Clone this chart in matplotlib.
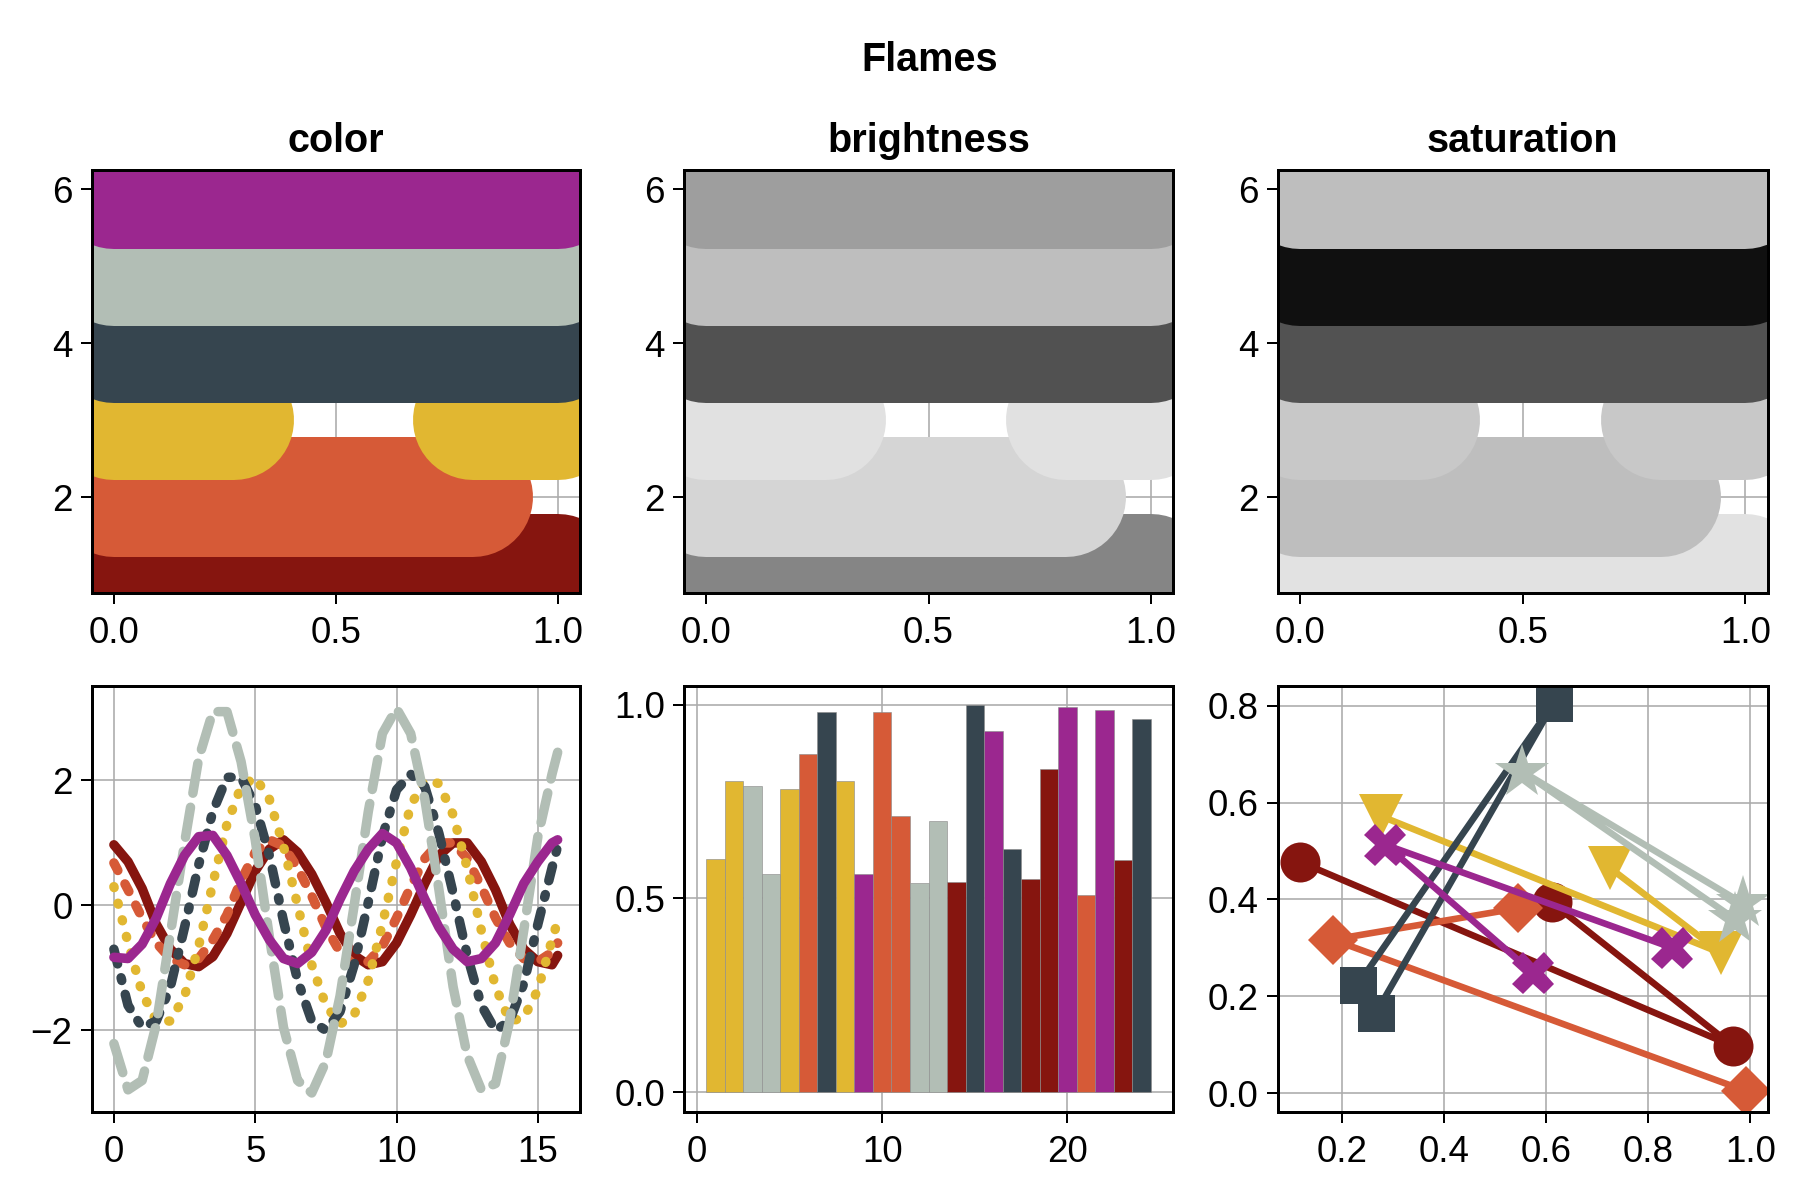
import numpy as np
import matplotlib
matplotlib.use("Agg")
import matplotlib.pyplot as plt

plt.rcParams['font.family'] = ['Liberation Sans', 'DejaVu Sans']

# ---------------- data ----------------
palette = ["#86150F", "#D65A37", "#E1B731", "#36454F", "#B2BEB5", "#9B278F"]
brightness_grays = ["#858585", "#D5D5D5", "#E1E1E1", "#515151", "#BEBEBE", "#9E9E9E"]
saturation_grays = ["#E2E2E2", "#BEBEBE", "#C8C8C8", "#525252", "#101010", "#BEBEBE"]

band_levels = [1, 2, 3, 4, 5, 6]
band_segments = [
    [[0.0, 1.0]],
    [[0.0, 0.81]],
    [[0.0, 0.27], [0.81, 1.0]],
    [[0.0, 1.0]],
    [[0.0, 1.0]],
    [[0.0, 1.0]],
]
panel_titles = ["color", "brightness", "saturation"]

wave_x = [0.0, 0.5, 1.0, 1.5, 2.0, 2.5, 3.0, 3.5, 4.0, 4.5, 5.0, 5.5, 6.0, 6.5,
          7.0, 7.5, 8.0, 8.5, 9.0, 9.5, 10.0, 10.5, 11.0, 11.5, 12.0, 12.5,
          13.0, 13.5, 14.0, 14.5, 15.0, 15.5, 15.7]
wave_red = [0.97, 0.7, 0.27, -0.3, -0.7, -0.93, -0.98, -0.82, -0.45, 0.05, 0.55,
            0.9, 1.05, 0.85, 0.5, 0.05, -0.45, -0.8, -0.95, -0.9, -0.6, -0.15,
            0.35, 0.8, 1.0, 1.0, 0.7, 0.25, -0.3, -0.7, -0.9, -0.95, -0.8]
wave_orange = [0.68, 0.25, -0.2, -0.6, -0.85, -0.95, -0.85, -0.55, -0.15, 0.4,
               0.85, 1.05, 0.95, 0.6, 0.15, -0.35, -0.75, -0.95, -0.9, -0.65,
               -0.2, 0.3, 0.75, 1.0, 1.0, 0.75, 0.3, -0.2, -0.6, -0.85, -0.9,
               -0.75, -0.6]
wave_yellow = [0.3, -0.6, -1.4, -1.85, -1.85, -1.45, -0.65, 0.35, 1.3, 1.9, 2.05,
               1.7, 0.95, 0.0, -0.95, -1.6, -1.9, -1.75, -1.2, -0.3, 0.7, 1.6,
               2.0, 1.95, 1.45, 0.6, -0.4, -1.3, -1.85, -1.8, -1.35, -0.55, -0.25]
wave_slate = [-0.7, -1.6, -1.95, -1.85, -1.3, -0.35, 0.65, 1.5, 2.05, 2.05, 1.6,
              0.8, -0.25, -1.2, -1.85, -2.0, -1.7, -0.95, 0.05, 1.1, 1.85, 2.1,
              1.9, 1.15, 0.2, -0.8, -1.6, -2.0, -1.85, -1.25, -0.3, 0.6, 0.95]
wave_gray = [-2.21, -2.95, -2.8, -1.9, -0.45, 1.0, 2.35, 3.1, 3.1, 2.3, 1.05,
             -0.5, -1.95, -2.8, -3.0, -2.5, -1.45, 0.0, 1.5, 2.75, 3.15, 2.75,
             1.7, 0.25, -1.3, -2.4, -2.95, -2.85, -1.85, -0.4, 1.1, 2.1, 2.45]
wave_purple = [-0.83, -0.85, -0.62, -0.2, 0.35, 0.8, 1.1, 1.12, 0.8, 0.35, -0.15,
               -0.55, -0.85, -0.93, -0.75, -0.4, 0.1, 0.55, 0.9, 1.15, 1.0, 0.6,
               0.1, -0.35, -0.7, -0.9, -0.85, -0.6, -0.15, 0.35, 0.7, 1.0, 1.05]

bar_x = list(range(1, 25))
bar_heights = [0.603, 0.804, 0.789, 0.564, 0.783, 0.873, 0.982, 0.802, 0.564,
               0.981, 0.713, 0.539, 0.701, 0.542, 0.998, 0.932, 0.627, 0.550,
               0.833, 0.995, 0.509, 0.987, 0.600, 0.963]
bar_color_idx = [2, 2, 4, 4, 2, 1, 3, 2, 5, 1, 1, 4, 4, 0, 3, 5, 3, 0, 0, 5, 1, 5, 0, 3]

sc_red_x = [0.116, 0.966, 0.610]
sc_red_y = [0.478, 0.097, 0.394]
sc_orange_x = [0.545, 0.181, 0.992]
sc_orange_y = [0.382, 0.317, 0.004]
sc_yellow_x = [0.276, 0.943, 0.725]
sc_yellow_y = [0.572, 0.289, 0.465]
sc_slate_x = [0.230, 0.614, 0.266]
sc_slate_y = [0.224, 0.805, 0.166]
sc_gray_x = [0.985, 0.553, 0.969]
sc_gray_y = [0.392, 0.664, 0.360]
sc_purple_x = [0.574, 0.284, 0.847]
sc_purple_y = [0.248, 0.513, 0.300]

# ---------------- figure ----------------
W, H = 1800, 1200
DPI = 100
fig = plt.figure(figsize=(W / DPI, H / DPI), dpi=DPI)

def px2pt(p):
    return p * 72.0 / DPI

TICK_FS = 26.5
TITLE_FS = 28.5
GRID_COLOR = "#ababab"

cols = [(91.7, 580.0), (684.0, 1173.0), (1277.7, 1767.7)]
rows = [(170.0, 593.3), (686.0, 1111.7)]

def make_ax(r, c):
    (x0, x1), (y0, y1) = cols[c], rows[r]
    ax = fig.add_axes([x0 / W, 1 - y1 / H, (x1 - x0) / W, (y1 - y0) / H])
    for s in ax.spines.values():
        s.set_linewidth(px2pt(3))
        s.set_color('black')
        s.set_zorder(10)
    ax.tick_params(direction='out', length=px2pt(11), width=px2pt(2),
                   labelsize=TICK_FS, color='black')
    ax.tick_params(axis='x', pad=px2pt(12))
    ax.tick_params(axis='y', pad=px2pt(8))
    ax.grid(True, color=GRID_COLOR, alpha=1.0, linewidth=px2pt(1.6))
    ax.set_axisbelow(True)
    return ax

# top row
band_lw = px2pt(120)
for c, colors in enumerate([palette, brightness_grays, saturation_grays]):
    ax = make_ax(0, c)
    for lvl, segs, col in zip(band_levels, band_segments, colors):
        for seg in segs:
            ax.plot(seg, [lvl, lvl], color=col, linewidth=band_lw,
                    solid_capstyle='round')
    ax.set_xlim(-0.05, 1.05)
    ax.set_ylim(0.75, 6.25)
    ax.set_xticks([0.0, 0.5, 1.0])
    ax.set_xticklabels(["0.0", "0.5", "1.0"])
    ax.set_yticks([2, 4, 6])
    ax.set_title(panel_titles[c], fontsize=TITLE_FS, fontweight='bold', pad=px2pt(18))

# bottom-left: waves
ax = make_ax(1, 0)
lw = px2pt(9.5)
styles = [
    (wave_red, palette[0], None),
    (wave_orange, palette[1], (0, (0.9, 1.6))),
    (wave_yellow, palette[2], (0, (0.1, 1.7))),
    (wave_slate, palette[3], (0, (1.6, 1.5, 0.3, 1.5))),
    (wave_gray, palette[4], (0, (3.2, 1.5))),
    (wave_purple, palette[5], None),
]
for ys, col, dash in styles:
    if dash is None:
        ax.plot(wave_x, ys, color=col, linewidth=lw, solid_capstyle='round',
                solid_joinstyle='round')
    else:
        ax.plot(wave_x, ys, color=col, linewidth=lw, linestyle=dash,
                dash_capstyle='round', dash_joinstyle='round')
ax.set_xlim(-0.785, 16.49)
ax.set_ylim(-3.30, 3.51)
ax.set_xticks([0, 5, 10, 15])
ax.set_yticks([-2, 0, 2])

# bottom-middle: bars
ax = make_ax(1, 1)
ax.bar(bar_x, bar_heights, width=1.0,
       color=[palette[i] for i in bar_color_idx],
       edgecolor=(0.55, 0.55, 0.55, 0.6), linewidth=px2pt(1))
ax.set_xlim(-0.7, 25.7)
ax.set_ylim(-0.05, 1.048)
ax.set_xticks([0, 10, 20])
ax.set_yticks([0.0, 0.5, 1.0])
ax.set_yticklabels(["0.0", "0.5", "1.0"])

# bottom-right: scatter lines
ax = make_ax(1, 2)
slw = px2pt(6.6)
series = [
    (sc_red_x, sc_red_y, palette[0], 'o', px2pt(40)),
    (sc_orange_x, sc_orange_y, palette[1], 'D', px2pt(35)),
    (sc_yellow_x, sc_yellow_y, palette[2], 'v', px2pt(44)),
    (sc_slate_x, sc_slate_y, palette[3], 's', px2pt(37)),
    (sc_gray_x, sc_gray_y, palette[4], '*', px2pt(56)),
    (sc_purple_x, sc_purple_y, palette[5], 'X', px2pt(42)),
]
for xs, ys, col, mk, ms in series:
    ax.plot(xs, ys, color=col, linewidth=slw, marker=mk, markersize=ms,
            markeredgewidth=0, solid_capstyle='butt')
ax.set_xlim(0.073, 1.034)
ax.set_ylim(-0.0385, 0.841)
ax.set_xticks([0.2, 0.4, 0.6, 0.8, 1.0])
ax.set_xticklabels(["0.2", "0.4", "0.6", "0.8", "1.0"])
ax.set_yticks([0.0, 0.2, 0.4, 0.6, 0.8])
ax.set_yticklabels(["0.0", "0.2", "0.4", "0.6", "0.8"])

fig.text((91.7 + 1767.7) / 2 / W, 1 - 70.7 / H, "Flames", ha='center',
         va='baseline', fontsize=TITLE_FS, fontweight='bold')

fig.savefig("out.png", dpi=DPI)
